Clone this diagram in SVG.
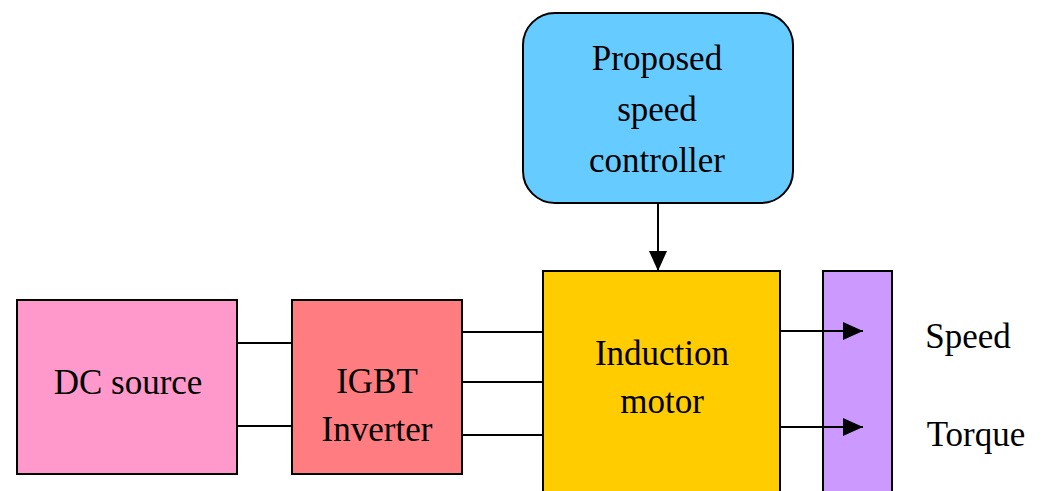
<svg xmlns="http://www.w3.org/2000/svg" width="1042" height="491" viewBox="0 0 1042 491">
<style>
.box{stroke:#000;stroke-width:2}
.t{font-family:"Liberation Serif","Times New Roman",serif;font-size:35px;fill:#000;text-anchor:middle}
.w{stroke:#000;stroke-width:2;fill:none}
</style>
<defs>
<marker id="ah2" markerWidth="20" markerHeight="18" refX="20" refY="9" orient="auto" markerUnits="userSpaceOnUse" viewBox="0 0 20 18">
<path d="M0,0 L20,9 L0,18 z" fill="#000"/>
</marker>
</defs>
<rect width="1042" height="491" fill="#fff"/>
<g id="controller">
<rect class="box" x="523" y="13" width="270" height="190" rx="32" fill="#66CCFF"/>
<text class="t" x="657" y="70">Proposed</text>
<text class="t" x="657" y="121">speed</text>
<text class="t" x="657" y="172">controller</text>
</g>
<g id="dcsource">
<rect class="box" x="17" y="300" width="220" height="174" fill="#FF99CC"/>
<text class="t" x="128" y="394">DC source</text>
</g>
<g id="inverter">
<rect class="box" x="292" y="300" width="170" height="174" fill="#FF7C80"/>
<text class="t" x="377" y="393">IGBT</text>
<text class="t" x="377" y="441">Inverter</text>
</g>
<g id="motor">
<rect class="box" x="543" y="271" width="237" height="230" fill="#FFCC00"/>
<text class="t" x="662" y="365">Induction</text>
<text class="t" x="662" y="413">motor</text>
</g>
<g id="load">
<rect class="box" x="823" y="271" width="69" height="230" fill="#CC99FF"/>
</g>
<g id="labels">
<text class="t" x="968" y="348">Speed</text>
<text class="t" x="976" y="446">Torque</text>
</g>
<g id="connectors">
<line class="w" x1="237" y1="343" x2="292" y2="343"/>
<line class="w" x1="237" y1="426" x2="292" y2="426"/>
<line class="w" x1="462" y1="332" x2="543" y2="332"/>
<line class="w" x1="462" y1="382" x2="543" y2="382"/>
<line class="w" x1="462" y1="435" x2="543" y2="435"/>
<line class="w" x1="658" y1="203" x2="658" y2="271" marker-end="url(#ah2)"/>
<line class="w" x1="780" y1="331" x2="863" y2="331" marker-end="url(#ah2)"/>
<line class="w" x1="780" y1="427" x2="863" y2="427" marker-end="url(#ah2)"/>
</g>
</svg>
